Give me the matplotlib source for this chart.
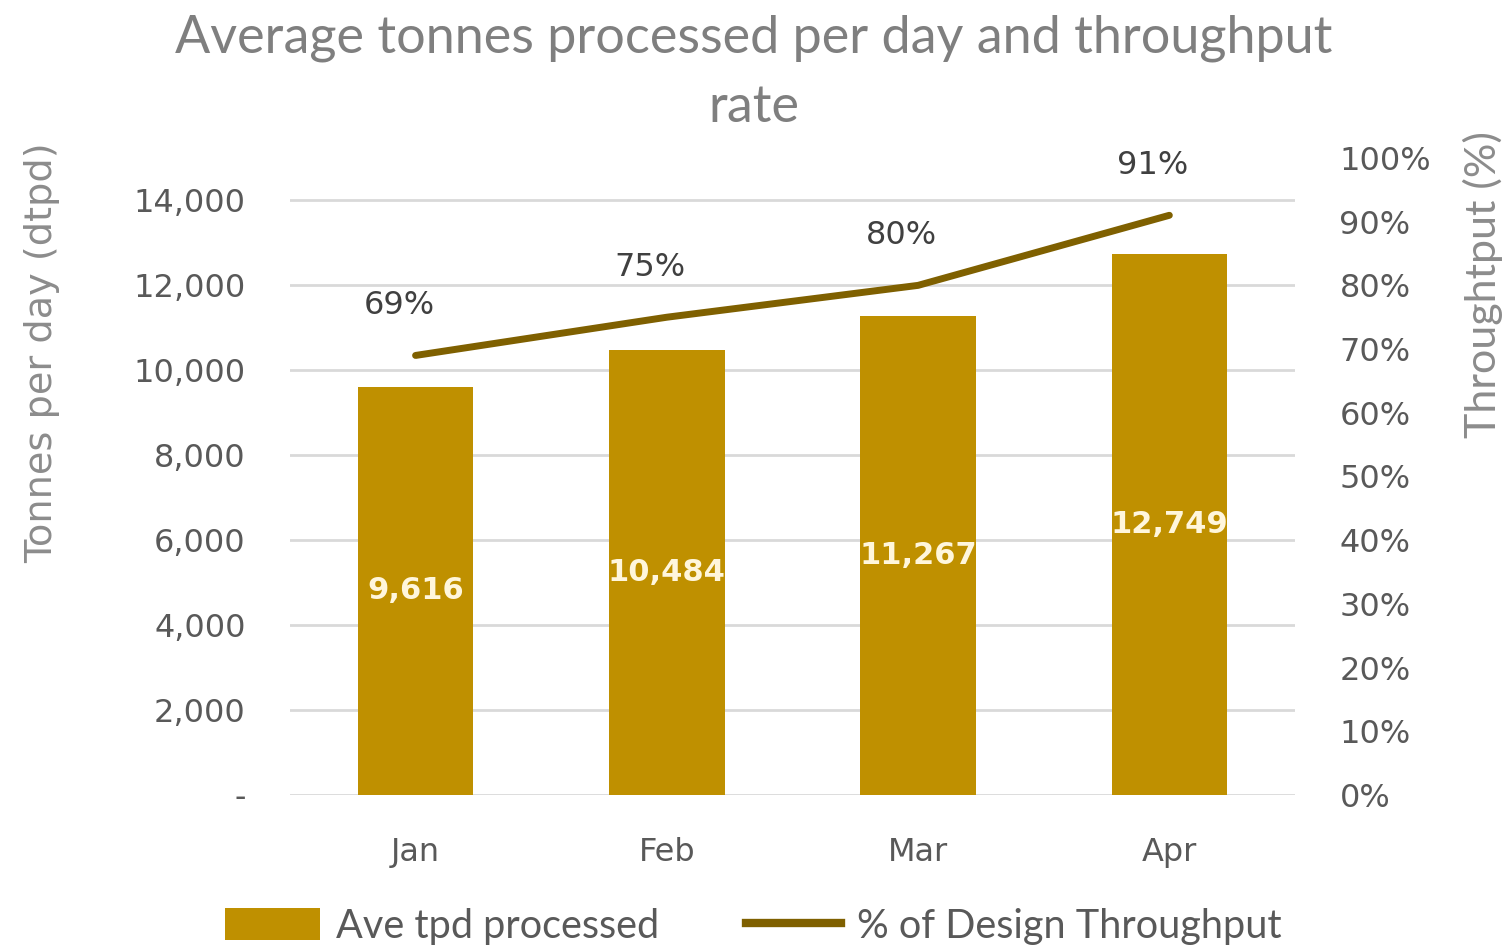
import matplotlib.pyplot as plt
from matplotlib.ticker import FuncFormatter, MultipleLocator
from matplotlib.lines import Line2D
from matplotlib.patches import Patch

months = ['Jan', 'Feb', 'Mar', 'Apr']
tpd = [9616, 10484, 11267, 12749]
throughput = [0.69, 0.75, 0.80, 0.91]

bar_color = '#BF9000'
line_color = '#7F6000'
grey = '#7F7F7F'

fig = plt.figure(figsize=(15.07, 9.47), dpi=100)
ax = fig.add_axes([0.1924, 0.1605, 0.6669, 0.6727])
ax2 = ax.twinx()

x = list(range(len(months)))
bars = ax.bar(x, tpd, width=0.46, color=bar_color, zorder=3)
ax.set_xlim(-0.5, len(months) - 0.5)
ax.set_ylim(0, 15000)
ax.yaxis.set_major_locator(MultipleLocator(2000))
ax.yaxis.set_major_formatter(FuncFormatter(lambda v, p: '-' if v == 0 else f'{int(v):,}'))
ax.grid(axis='y', color='#D9D9D9', linewidth=2, zorder=0)
ax.set_axisbelow(True)
ax.set_xticks(x)
ax.set_xticklabels(months)

for b, v in zip(bars, tpd):
    ax.text(b.get_x() + b.get_width() / 2, v / 2, f'{v:,}', ha='center', va='center',
            color='#FFF6DC', fontsize=22, fontweight='bold', zorder=4)

ax2.plot(x, throughput, color=line_color, linewidth=5, solid_capstyle='round', zorder=5)
ax2.set_ylim(0, 1.0)
ax2.yaxis.set_major_locator(MultipleLocator(0.1))
ax2.yaxis.set_major_formatter(FuncFormatter(lambda v, p: f'{v * 100:.0f}%'))
for xi, v in zip(x, throughput):
    ax2.annotate(f'{v * 100:.0f}%', (xi, v), xytext=(-12, 36), textcoords='offset points',
                 ha='center', va='center', fontsize=23, color='#404040')

for a in (ax, ax2):
    for s in a.spines.values():
        s.set_visible(False)
    a.tick_params(length=0, labelsize=23, labelcolor='#595959')
ax.tick_params(axis='y', pad=32)
ax.tick_params(axis='x', pad=30)
ax2.tick_params(axis='y', pad=32)

fig.text(0.5, 0.96, 'Average tonnes processed per day and throughput', ha='center', va='center',
         fontsize=37.5, color=grey, family='Lato')
fig.text(0.5, 0.886, 'rate', ha='center', va='center', fontsize=37.5, color=grey, family='Lato')

fig.text(0.028, 0.628, 'Tonnes per day (dtpd)', rotation=90, ha='center', va='center',
         fontsize=27.5, color='#8C8C8C')
fig.text(0.984, 0.70, 'Throughtput (%)', rotation=90, ha='center', va='center',
         fontsize=31, color='#8C8C8C', family='Lato')

handles = [Patch(facecolor=bar_color, label='Ave tpd processed'),
           Line2D([0], [0], color=line_color, linewidth=6, label='% of Design Throughput')]
fig.legend(handles=handles, loc='center', bbox_to_anchor=(0.5, 0.022), ncol=2, frameon=False,
           prop={'family': 'Lato', 'size': 28.5}, labelcolor='#595959',
           handlelength=2.4, handleheight=0.9, columnspacing=2.2, handletextpad=0.4)

fig.savefig('out.png', dpi=100)
